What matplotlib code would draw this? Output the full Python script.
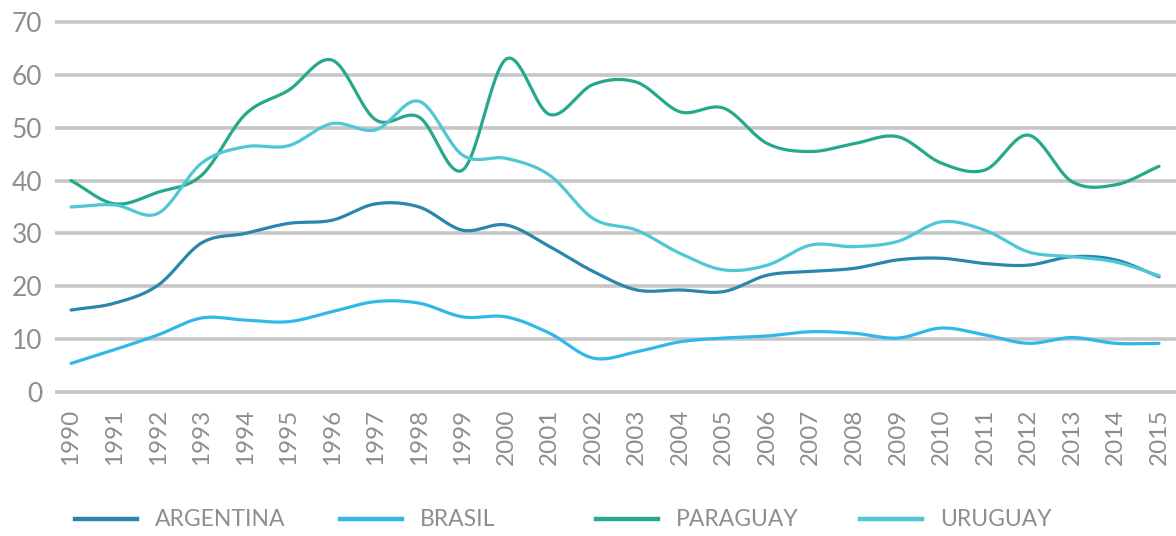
import numpy as np
import matplotlib
matplotlib.use("Agg")
import matplotlib.pyplot as plt
from matplotlib.lines import Line2D

years = list(range(1990, 2016))
argentina = [15.5, 16.8, 20.2, 28.2, 30.0, 31.9, 32.5, 35.6, 35.0, 30.6, 31.6, 27.5, 22.8, 19.3,
             19.3, 19.0, 22.1, 22.8, 23.4, 25.0, 25.3, 24.3, 24.0, 25.6, 25.0, 21.8]
brasil = [5.4, 8.0, 10.8, 14.0, 13.6, 13.3, 15.2, 17.1, 16.8, 14.2, 14.2, 11.1, 6.4, 7.6,
          9.5, 10.2, 10.6, 11.4, 11.1, 10.2, 12.1, 10.8, 9.2, 10.3, 9.2, 9.2]
paraguay = [40.0, 35.6, 37.8, 41.0, 52.5, 57.1, 62.8, 51.5, 52.0, 42.0, 63.0, 52.5, 58.2, 58.6,
            53.0, 53.7, 47.0, 45.5, 47.0, 48.3, 43.3, 42.0, 48.6, 39.8, 39.2, 42.7]
uruguay = [35.0, 35.4, 33.8, 43.3, 46.4, 46.6, 50.8, 49.6, 55.0, 44.8, 44.2, 41.0, 32.8, 30.6,
           26.2, 23.1, 24.0, 27.8, 27.5, 28.5, 32.2, 30.6, 26.5, 25.6, 24.6, 22.0]

series_names = ["ARGENTINA", "BRASIL", "PARAGUAY", "URUGUAY"]
series_values = [argentina, brasil, paraguay, uruguay]
colors = ["#2a86ad", "#31b8e8", "#25a98a", "#4fc7d7"]
ytick_values = [0, 10, 20, 30, 40, 50, 60, 70]


def smooth(xs, ys, n=24):
    """Cubic Hermite (Catmull-Rom) rendering of the yearly points for a smooth curve."""
    xs = np.asarray(xs, float)
    ys = np.asarray(ys, float)
    m = np.gradient(ys, xs)
    out_x, out_y = [], []
    for i in range(len(xs) - 1):
        t = np.linspace(0, 1, n, endpoint=False)
        h = xs[i + 1] - xs[i]
        h00 = 2 * t**3 - 3 * t**2 + 1
        h10 = t**3 - 2 * t**2 + t
        h01 = -2 * t**3 + 3 * t**2
        h11 = t**3 - t**2
        out_x.extend(xs[i] + t * h)
        out_y.extend(h00 * ys[i] + h10 * h * m[i] + h01 * ys[i + 1] + h11 * h * m[i + 1])
    out_x.append(xs[-1])
    out_y.append(ys[-1])
    return np.array(out_x), np.array(out_y)


W, H = 1176, 536
fig = plt.figure(figsize=(W / 100, H / 100), dpi=100)
fig.patch.set_facecolor("white")

left_px, right_px = 55, 1176
top_px, bot_px = 19.4, 394.6
ax = fig.add_axes([left_px / W, 1 - bot_px / H, (right_px - left_px) / W, (bot_px - top_px) / H])

for name, vals, c in zip(series_names, series_values, colors):
    sx, sy = smooth(years, vals)
    ax.plot(sx, sy, color=c, lw=2.3, solid_capstyle="round", zorder=3)

ax.set_xlim(1989.632, 2015.39)
ax.set_ylim(-0.5, 70.5)
ax.set_yticks(ytick_values)
ax.set_xticks(years)
ax.set_xticklabels([str(y) for y in years], rotation=90)
for s in ax.spines.values():
    s.set_visible(False)
ax.grid(axis="y", color="#c6c6c6", lw=2.6, zorder=1)
ax.set_axisbelow(True)
ax.tick_params(axis="y", length=0, pad=9, labelsize=19, labelcolor="#8e8e8e")
ax.tick_params(axis="x", length=0, pad=10, labelsize=17.5, labelcolor="#8e8e8e")
for lbl in ax.get_yticklabels() + ax.get_xticklabels():
    lbl.set_fontfamily("Lato")

# legend drawn along the bottom
leg_y = 1 - 519 / H
handle_x0 = [75, 340, 596, 860]
for name, c, x0 in zip(series_names, colors, handle_x0):
    fig.add_artist(Line2D([x0 / W, (x0 + 62) / W], [leg_y, leg_y], color=c, lw=3.2,
                          transform=fig.transFigure))
    fig.text((x0 + 80) / W, leg_y, name, ha="left", va="center", fontsize=16.5,
             color="#8e8e8e", family="Lato")

fig.savefig("out.png", dpi=100, facecolor="white")
